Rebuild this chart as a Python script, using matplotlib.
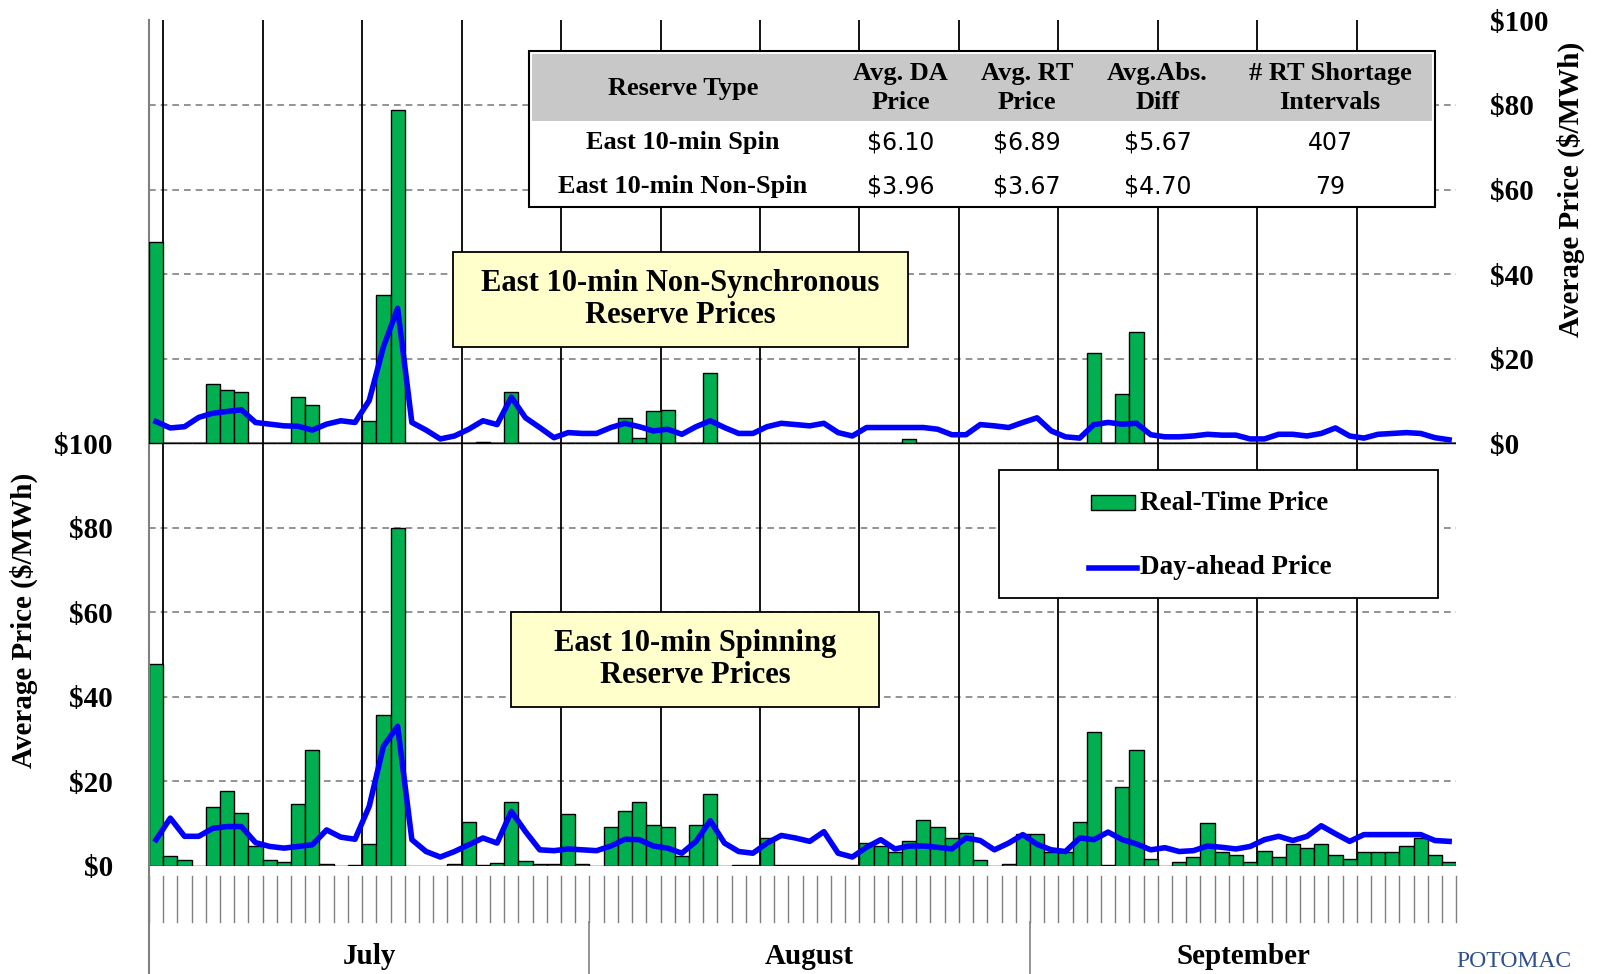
import matplotlib
matplotlib.use("Agg")
import matplotlib.pyplot as plt
import numpy as np
from matplotlib.patches import Rectangle
import matplotlib.transforms as mtransforms

spin_rt = [47.7,2.4,1.5,0,13.9,17.8,12.5,4.7,1.5,1.0,14.7,27.5,0.5,0,0.3,5.1,35.8,80,0,0,0,0.5,10.5,0.3,0.6,15,1.2,0.5,0.5,12.3,0.5,
           0,9.3,13.1,15.1,9.7,9.3,2.4,9.7,17.1,0,0.3,0.3,6.7,0.3,0.3,0.3,0.3,0.3,0.3,5.5,4.6,3.2,6.0,10.8,9.3,6.6,7.7,1.5,0,0.5,7.5,
           7.5,3.4,3.4,10.5,31.6,0.3,18.6,27.4,1.7,0,1.0,2.0,10.1,3.2,2.5,1.0,3.6,2.0,5.1,4.3,5.1,2.5,1.7,3.2,3.2,3.2,4.7,6.6,2.5,1.0]
spin_da = [6.2,11.3,7.0,7.0,8.9,9.3,9.3,5.5,4.6,4.2,4.6,5.0,8.5,6.8,6.3,14.1,28.3,33,6.2,3.4,2.1,3.4,5.0,6.6,5.4,12.9,8.1,3.8,3.6,4.0,3.8,
           3.6,4.7,6.3,6.2,4.7,4.2,3.0,5.8,10.7,5.4,3.4,3.0,5.4,7.2,6.6,5.8,8.1,3.0,2.1,4.4,6.2,4.0,4.7,4.7,4.4,4.0,6.6,6.0,3.8,5.4,7.4,
           5.1,3.8,3.4,6.6,6.2,8.0,6.2,5.2,3.8,4.3,3.4,3.6,4.7,4.4,4.0,4.6,6.2,7.0,6.0,7.0,9.5,7.6,5.8,7.4,7.4,7.4,7.4,7.4,6.0,5.8]
nonspin_rt = [0]*92
for d, v in {0:47.5,4:14.0,5:12.5,6:12.1,10:11.0,11:9.0,15:5.2,16:35.1,17:78.7,23:0.3,25:12.1,
             33:6.0,34:1.3,35:7.5,36:7.9,39:16.7,53:1.0,66:21.3,68:11.7,69:26.3}.items():
    nonspin_rt[d] = v
nonspin_da = [5.1,3.6,3.9,6.1,7.1,7.5,7.9,4.9,4.5,4.1,4.0,3.1,4.5,5.3,4.9,10.1,22.8,31.9,4.9,3.1,1.0,1.7,3.3,5.3,4.4,10.9,6.0,3.7,1.3,2.5,2.3,
              2.3,3.7,4.7,3.9,2.9,3.3,2.1,3.9,5.3,3.7,2.3,2.3,3.9,4.7,4.4,4.1,4.7,2.5,1.7,3.7,3.7,3.7,3.7,3.7,3.3,2.0,2.0,4.4,4.1,3.7,4.9,
              6.0,2.9,1.5,1.2,4.4,4.9,4.5,4.7,2.0,1.5,1.5,1.7,2.1,1.9,1.9,1.0,1.0,2.1,2.1,1.7,2.3,3.6,1.7,1.2,2.1,2.3,2.5,2.3,1.3,0.8]
months = ["July", "August", "September"]
month_days = [31, 31, 30]
left_ticks = [0, 20, 40, 60, 80, 100]
left_labels = ["$0", "$20", "$40", "$60", "$80", "$100"]
right_ticks = [0, 20, 40, 60, 80, 100]
right_labels = ["$0", "$20", "$40", "$60", "$80", "$100"]
tbl_header = [["Reserve Type", "Avg. DA\nPrice", "Avg. RT\nPrice", "Avg.Abs.\nDiff", "# RT Shortage\nIntervals"]]
tbl_rows = [["East 10-min Spin", "$6.10", "$6.89", "$5.67", "407"],
            ["East 10-min Non-Spin", "$3.96", "$3.67", "$4.70", "79"]]

SERIF = "Liberation Serif"
GREEN = "#00B050"
BLUE = "#0000FF"

fig = plt.figure(figsize=(16.02, 9.74), dpi=100)
S = 1.027
def fx(xd): return xd * S / 1602
def fy(yd): return 1 - yd * S / 974

ax = fig.add_axes([0.093, 0.111, 0.909 - 0.093, 0.979 - 0.111])
ax2 = ax.twinx()
n = len(spin_rt)
x = np.arange(n) + 0.5
ax.set_xlim(0, n)
ax.set_ylim(0, 200)
ax2.set_ylim(-100, 100)

for g in range(20, 200, 20):
    ax.axhline(g, color="#808080", lw=1.2, ls=(0, (4, 3)), zorder=0)
ax.axhline(100, color="#808080", lw=1.5, zorder=0.5)
for d in range(1, n, 7):
    ax.axvline(d, color="black", lw=1.3, zorder=0.6)

ax.bar(x, spin_rt, width=1.0, color=GREEN, edgecolor="black", lw=1, zorder=2)
ax.plot(x, spin_da, color=BLUE, lw=4, zorder=3, solid_joinstyle="round")
ax2.bar(x, nonspin_rt, width=1.0, color=GREEN, edgecolor="black", lw=1, zorder=2)
ax2.plot(x, nonspin_da, color=BLUE, lw=4, zorder=3, solid_joinstyle="round")

ax.set_yticks(left_ticks)
ax.set_yticklabels(left_labels, fontfamily=SERIF, fontweight="bold", fontsize=21)
ax2.set_yticks(right_ticks)
ax2.set_yticklabels(right_labels, fontfamily=SERIF, fontweight="bold", fontsize=21)
ax.tick_params(axis="y", length=0, pad=26)
ax2.tick_params(axis="y", length=0, pad=24)
ax.set_xticks([])
for a in (ax, ax2):
    for s in ("top", "right", "bottom", "left"):
        a.spines[s].set_visible(False)
ax.spines["left"].set_visible(True)
ax.spines["left"].set_color("#808080")
ax.spines["left"].set_linewidth(1.5)
ax.spines["left"].set_bounds(0, 200)

ax.set_ylabel("Average Price ($/MWh)", fontfamily=SERIF, fontweight="bold", fontsize=21)
ax.yaxis.set_label_coords(-0.085, 0.29)
ax2.set_ylabel("Average Price ($/MWh)", fontfamily=SERIF, fontweight="bold", fontsize=21)
ax2.yaxis.set_label_coords(1.077, 0.8)

tr = mtransforms.blended_transform_factory(ax.transData, ax.transAxes)
for d in range(n + 1):
    ax.plot([d, d], [-0.012, -0.066], color="#808080", lw=1, transform=tr, clip_on=False)
ax.plot([0, 0], [0, -0.14], color="#808080", lw=1.5, transform=tr, clip_on=False)
start = 0
for m, nd in zip(months, month_days):
    ax.plot([start, start], [-0.066, -0.14], color="#808080", lw=1.2, transform=tr, clip_on=False)
    ax.text(start + nd / 2, -0.107, m, transform=tr, ha="center", va="center",
            fontfamily=SERIF, fontweight="bold", fontsize=21)
    start += nd

tx0, tx1 = fx(515), fx(1397)
ty_top, ty_hdr, ty_bot = fy(50), fy(118), fy(202)
fig.patches.append(Rectangle((tx0, ty_bot), tx1 - tx0, ty_top - ty_bot, transform=fig.transFigure,
                             facecolor="white", edgecolor="black", lw=1.5, zorder=5))
fig.patches.append(Rectangle((tx0 + 0.002, ty_hdr), tx1 - tx0 - 0.004, ty_top - ty_hdr - 0.003,
                             transform=fig.transFigure, facecolor="#C8C8C8", edgecolor="none", zorder=5))
colx = [665, 877, 1000, 1127, 1295]
for cx, h in zip(colx, tbl_header[0]):
    fig.text(fx(cx), fy(86), h, ha="center", va="center", fontfamily=SERIF, fontweight="bold",
             fontsize=19, linespacing=1.35, zorder=6)
for ry, row in zip([139, 182], tbl_rows):
    for j, (cx, v) in enumerate(zip(colx, row)):
        fig.text(fx(cx), fy(ry), v, ha="center", va="center", fontfamily=SERIF if j == 0 else "DejaVu Sans",
                 fontweight="bold" if j == 0 else "normal", fontsize=19 if j == 0 else 17, zorder=6)

def note(x0, y0, x1, y1, txt):
    fig.patches.append(Rectangle((fx(x0), fy(y1)), fx(x1) - fx(x0), fy(y0) - fy(y1), transform=fig.transFigure,
                                 facecolor="#FFFFCC", edgecolor="black", lw=1.3, zorder=5))
    fig.text((fx(x0) + fx(x1)) / 2, (fy(y0) + fy(y1)) / 2, txt, ha="center", va="center", fontfamily=SERIF,
             fontweight="bold", fontsize=22, linespacing=1.15, zorder=6)

note(441, 245, 884, 338, "East 10-min Non-Synchronous\nReserve Prices")
note(498, 596, 856, 688, "East 10-min Spinning\nReserve Prices")

fig.patches.append(Rectangle((fx(973), fy(582)), fx(1400) - fx(973), fy(458) - fy(582), transform=fig.transFigure,
                             facecolor="white", edgecolor="black", lw=1.3, zorder=5))
fig.patches.append(Rectangle((fx(1062), fy(497)), fx(1105) - fx(1062), fy(482) - fy(497), transform=fig.transFigure,
                             facecolor=GREEN, edgecolor="black", lw=1, zorder=6))
fig.add_artist(plt.Line2D([fx(1060), fx(1107)], [fy(553), fy(553)], color=BLUE, lw=4, zorder=6))
fig.text(fx(1110), fy(490), "Real-Time Price", va="center", fontfamily=SERIF, fontweight="bold", fontsize=19.5, zorder=6)
fig.text(fx(1110), fy(553), "Day-ahead Price", va="center", fontfamily=SERIF, fontweight="bold", fontsize=19.5, zorder=6)

fig.text(fx(1418), 0.002, "POTOMAC", va="bottom", fontfamily=SERIF, fontsize=17, color="#2F4F8F")

fig.savefig("out.png", dpi=100)
